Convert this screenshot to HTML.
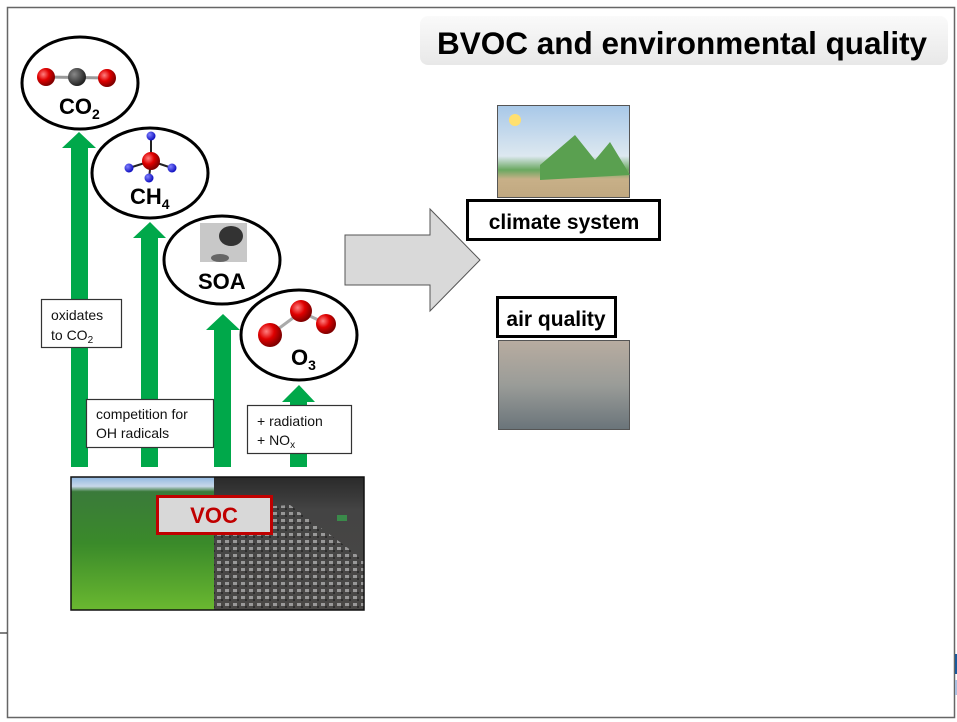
<!DOCTYPE html>
<html><head><meta charset="utf-8"><style>
html,body{margin:0;padding:0;background:#fff;}
svg{display:block;font-family:"Liberation Sans",Arial,sans-serif;}
</style></head><body>
<svg width="957" height="722" viewBox="0 0 957 722" xmlns="http://www.w3.org/2000/svg">
<defs>
<radialGradient id="red" cx="35%" cy="35%" r="65%"><stop offset="0" stop-color="#ff8080"/><stop offset="0.5" stop-color="#e00000"/><stop offset="1" stop-color="#800000"/></radialGradient>
<radialGradient id="blue" cx="35%" cy="35%" r="65%"><stop offset="0" stop-color="#8080ff"/><stop offset="1" stop-color="#1010c0"/></radialGradient>
<radialGradient id="dark" cx="35%" cy="35%" r="65%"><stop offset="0" stop-color="#888"/><stop offset="1" stop-color="#222"/></radialGradient>
<linearGradient id="title" x1="0" y1="0" x2="0" y2="1"><stop offset="0" stop-color="#fafafa"/><stop offset="1" stop-color="#e8e8e8"/></linearGradient>
<linearGradient id="forest" x1="0" y1="0" x2="0" y2="1"><stop offset="0" stop-color="#90b8e0"/><stop offset="0.07" stop-color="#c8d8ea"/><stop offset="0.11" stop-color="#3a7a3a"/><stop offset="0.5" stop-color="#3a8a2a"/><stop offset="1" stop-color="#6ab830"/></linearGradient>
<linearGradient id="traffic" x1="0" y1="0" x2="0" y2="1"><stop offset="0" stop-color="#2a2a2a"/><stop offset="0.25" stop-color="#444"/><stop offset="1" stop-color="#4a4846"/></linearGradient>
<pattern id="cars" width="8" height="7" patternUnits="userSpaceOnUse"><rect x="1" y="1" width="4" height="3" fill="#bbb"/><rect x="5" y="4" width="2" height="2" fill="#222"/></pattern>
<linearGradient id="smog" x1="0" y1="0" x2="0" y2="1"><stop offset="0" stop-color="#b8aca0"/><stop offset="0.5" stop-color="#9a9c98"/><stop offset="1" stop-color="#6a747a"/></linearGradient>
<linearGradient id="clim" x1="0" y1="0" x2="0" y2="1"><stop offset="0" stop-color="#a8c8e8"/><stop offset="0.55" stop-color="#dde8f0"/><stop offset="0.7" stop-color="#6aa860"/><stop offset="0.8" stop-color="#c8b088"/><stop offset="1" stop-color="#c0a880"/></linearGradient>
</defs>
<rect x="7.5" y="7.5" width="947" height="710" fill="none" stroke="#666" stroke-width="1.5"/>
<line x1="0" y1="633" x2="7" y2="633" stroke="#000" stroke-width="1"/>
<rect x="955" y="654" width="2" height="20" fill="#1a5a9a"/>
<rect x="955" y="680" width="2" height="15" fill="#a8c0e0"/>
<rect x="420" y="16" width="528" height="49" rx="8" fill="url(#title)"/>
<text x="437" y="54" font-size="31.5" font-weight="bold" fill="#000">BVOC and environmental quality</text>

<g fill="#00a84a">
<polygon points="71,467 71,148 62,148 79,132 96,148 88,148 88,467"/>
<polygon points="141,467 141,238 133,238 150,222 166,238 158,238 158,467"/>
<polygon points="214,467 214,330 206,330 223,314 240,330 231,330 231,467"/>
<polygon points="290,467 290,402 282,402 299,385 315,402 307,402 307,467"/>
</g>

<g fill="#fff" stroke="#000" stroke-width="3">
<ellipse cx="80" cy="83" rx="58" ry="46"/>
<ellipse cx="150" cy="173" rx="58" ry="45"/>
<ellipse cx="222" cy="260" rx="58" ry="44"/>
<ellipse cx="299" cy="335" rx="58" ry="45"/>
</g>
<line x1="46" y1="77" x2="107" y2="78" stroke="#999" stroke-width="3"/>
<circle cx="46" cy="77" r="9" fill="url(#red)"/>
<circle cx="77" cy="77" r="9" fill="url(#dark)"/>
<circle cx="107" cy="78" r="9" fill="url(#red)"/>
<text x="59" y="114" font-size="22" font-weight="bold">CO<tspan font-size="14" dy="5">2</tspan></text>
<g stroke="#222" stroke-width="2"><line x1="151" y1="161" x2="151" y2="136"/><line x1="151" y1="161" x2="129" y2="168"/><line x1="151" y1="161" x2="172" y2="168"/><line x1="151" y1="161" x2="149" y2="178"/></g>
<circle cx="151" cy="161" r="9" fill="url(#red)"/>
<circle cx="151" cy="136" r="4.5" fill="url(#blue)"/>
<circle cx="129" cy="168" r="4.5" fill="url(#blue)"/>
<circle cx="172" cy="168" r="4.5" fill="url(#blue)"/>
<circle cx="149" cy="178" r="4.5" fill="url(#blue)"/>
<text x="130" y="204" font-size="22" font-weight="bold">CH<tspan font-size="14" dy="5">4</tspan></text>
<rect x="200" y="223" width="47" height="39" fill="#c8c8c8"/>
<ellipse cx="231" cy="236" rx="12" ry="10" fill="#333"/>
<ellipse cx="220" cy="258" rx="9" ry="4" fill="#666"/>
<text x="198" y="289" font-size="22" font-weight="bold">SOA</text>
<g stroke="#aaa" stroke-width="3"><line x1="270" y1="335" x2="301" y2="312"/><line x1="301" y1="312" x2="325" y2="323"/></g>
<circle cx="270" cy="335" r="12" fill="url(#red)"/>
<circle cx="301" cy="311" r="11" fill="url(#red)"/>
<circle cx="326" cy="324" r="10" fill="url(#red)"/>
<text x="291" y="365" font-size="22" font-weight="bold">O<tspan font-size="14" dy="5">3</tspan></text>

<g fill="#fff" stroke="#333" stroke-width="1.2">
<rect x="41.5" y="299.5" width="80" height="48"/>
<rect x="86.5" y="399.5" width="127" height="48"/>
<rect x="247.5" y="405.5" width="104" height="48"/>
</g>
<g font-size="14" fill="#111">
<text x="51" y="320">oxidates</text>
<text x="51" y="340">to CO<tspan font-size="10" dy="3">2</tspan></text>
<text x="96" y="419">competition for</text>
<text x="96" y="438">OH radicals</text>
<text x="257" y="426">+ radiation</text>
<text x="257" y="445">+ NO<tspan font-size="10" dy="3">x</tspan></text>
</g>

<rect x="71" y="477" width="143" height="133" fill="url(#forest)"/>
<rect x="214" y="477" width="150" height="133" fill="url(#traffic)"/>
<polygon points="214,510 290,505 364,560 364,610 214,610" fill="url(#cars)" opacity="0.7"/>
<rect x="337" y="515" width="10" height="6" fill="#3a8a4a"/>
<rect x="71" y="477" width="293" height="133" fill="none" stroke="#111" stroke-width="1.5"/>
<rect x="157.5" y="496.5" width="114" height="37" fill="#d8d8d8" stroke="#c00000" stroke-width="3"/>
<text x="214" y="523" font-size="22" font-weight="bold" fill="#c00000" text-anchor="middle">VOC</text>

<polygon points="345,235 430,235 430,209 480,260 430,311 430,285 345,285" fill="#d9d9d9" stroke="#555" stroke-width="1"/>

<rect x="497.5" y="105.5" width="132" height="92" fill="url(#clim)" stroke="#555" stroke-width="1"/>
<polygon points="540,165 575,135 595,160 610,142 630,175 540,180" fill="#5aa050"/>
<circle cx="515" cy="120" r="6" fill="#ffe070"/>
<rect x="467.5" y="200.5" width="192" height="39" fill="#fff" stroke="#000" stroke-width="3"/>
<text x="564" y="229" font-size="21" font-weight="bold" text-anchor="middle">climate system</text>

<rect x="497.5" y="297.5" width="118" height="39" fill="#fff" stroke="#000" stroke-width="3"/>
<text x="556" y="326" font-size="21" font-weight="bold" text-anchor="middle">air quality</text>
<rect x="498.5" y="340.5" width="131" height="89" fill="url(#smog)" stroke="#555" stroke-width="1"/>
</svg>
</body></html>
